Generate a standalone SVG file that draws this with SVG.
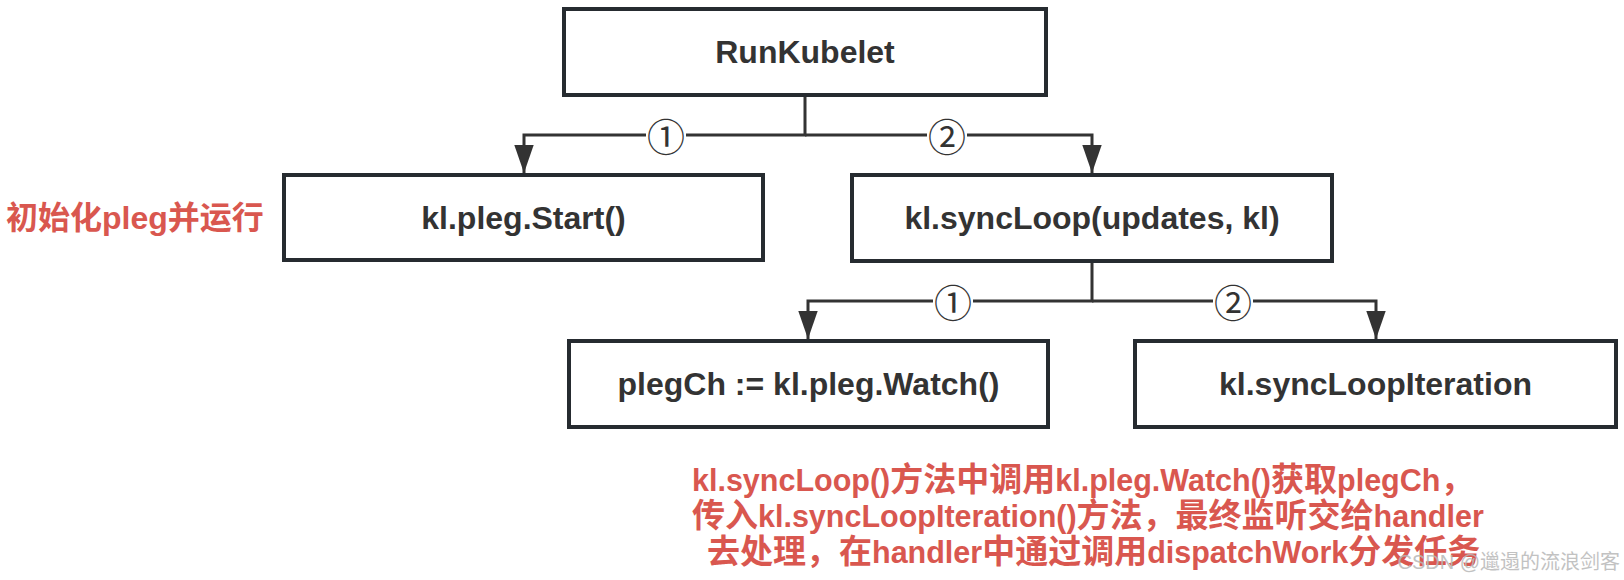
<svg xmlns="http://www.w3.org/2000/svg" width="1624" height="580" viewBox="0 0 1624 580">
<style>
.box{fill:#ffffff;stroke:#262b30;stroke-width:4}
.lbl{font-family:"Liberation Sans","Noto Sans CJK SC",sans-serif;font-weight:bold;font-size:32px;fill:#333333;text-anchor:middle}
.conn{fill:none;stroke:#333333;stroke-width:3;stroke-linejoin:miter}
.num{font-family:"Noto Sans CJK SC","DejaVu Sans",sans-serif;font-size:38px;fill:#333333;text-anchor:middle}
.red{font-family:"Liberation Sans","Noto Sans CJK SC",sans-serif;font-weight:bold;fill:#d9574f}
.cj{font-size:33px}
.wm{font-family:"Liberation Sans","Noto Sans CJK SC",sans-serif;font-size:20px;fill:#b8b8b8;opacity:0.85;text-anchor:end}
</style>
<defs>
<marker id="arr" markerUnits="userSpaceOnUse" markerWidth="20" markerHeight="28" viewBox="0 0 18 26" refX="9" refY="26" orient="0">
<path d="M0 0 L18 0 L9 26 Z" fill="#333333"/>
</marker>
</defs>
<rect width="1624" height="580" fill="#ffffff"/>
<g id="connectors">
<path class="conn" d="M805 95 V135 H524 V173" marker-end="url(#arr)"/>
<path class="conn" d="M805 135 H1092 V173" marker-end="url(#arr)"/>
<path class="conn" d="M1092 261 V301 H808 V339" marker-end="url(#arr)"/>
<path class="conn" d="M1092 301 H1376 V339" marker-end="url(#arr)"/>
<rect x="646" y="118" width="40" height="36" fill="#ffffff"/>
<text class="num" x="666" y="151">①</text>
<rect x="927" y="118" width="40" height="36" fill="#ffffff"/>
<text class="num" x="947" y="151">②</text>
<rect x="933" y="284" width="40" height="36" fill="#ffffff"/>
<text class="num" x="953" y="317">①</text>
<rect x="1213" y="284" width="40" height="36" fill="#ffffff"/>
<text class="num" x="1233" y="317">②</text>
</g>
<g id="runkubelet">
<rect class="box" x="564" y="9" width="482" height="86"/>
<text class="lbl" x="805" y="63">RunKubelet</text>
</g>
<g id="plegstart">
<rect class="box" x="284" y="175" width="479" height="85"/>
<text class="lbl" x="523.5" y="229">kl.pleg.Start()</text>
</g>
<g id="syncloop">
<rect class="box" x="852" y="175" width="480" height="86"/>
<text class="lbl" x="1092" y="229">kl.syncLoop(updates, kl)</text>
</g>
<g id="plegwatch">
<rect class="box" x="569" y="341" width="479" height="86"/>
<text class="lbl" x="808.5" y="395">plegCh := kl.pleg.Watch()</text>
</g>
<g id="syncloopiteration">
<rect class="box" x="1135" y="341" width="481" height="86"/>
<text class="lbl" x="1375.5" y="395">kl.syncLoopIteration</text>
</g>
<g id="note-init">
<text class="red" x="6" y="229" font-size="32">初始化pleg并运行</text>
</g>
<g id="note-bottom">
<text class="red" x="692" y="491" font-size="30.5">kl.syncLoop()<tspan class="cj">方法中调用</tspan>kl.pleg.Watch()<tspan class="cj">获取</tspan>plegCh<tspan class="cj">，</tspan></text>
<text class="red" x="692" y="527" font-size="30.5"><tspan class="cj">传入</tspan>kl.syncLoopIteration()<tspan class="cj">方法，最终监听交给</tspan>handler</text>
<text class="red" x="707" y="563" font-size="30.5"><tspan class="cj">去处理，在</tspan>handler<tspan class="cj">中通过调用</tspan>dispatchWork<tspan class="cj">分发任务</tspan></text>
</g>
<g id="watermark">
<text class="wm" x="1620" y="569">CSDN @邋遢的流浪剑客</text>
</g>
</svg>
